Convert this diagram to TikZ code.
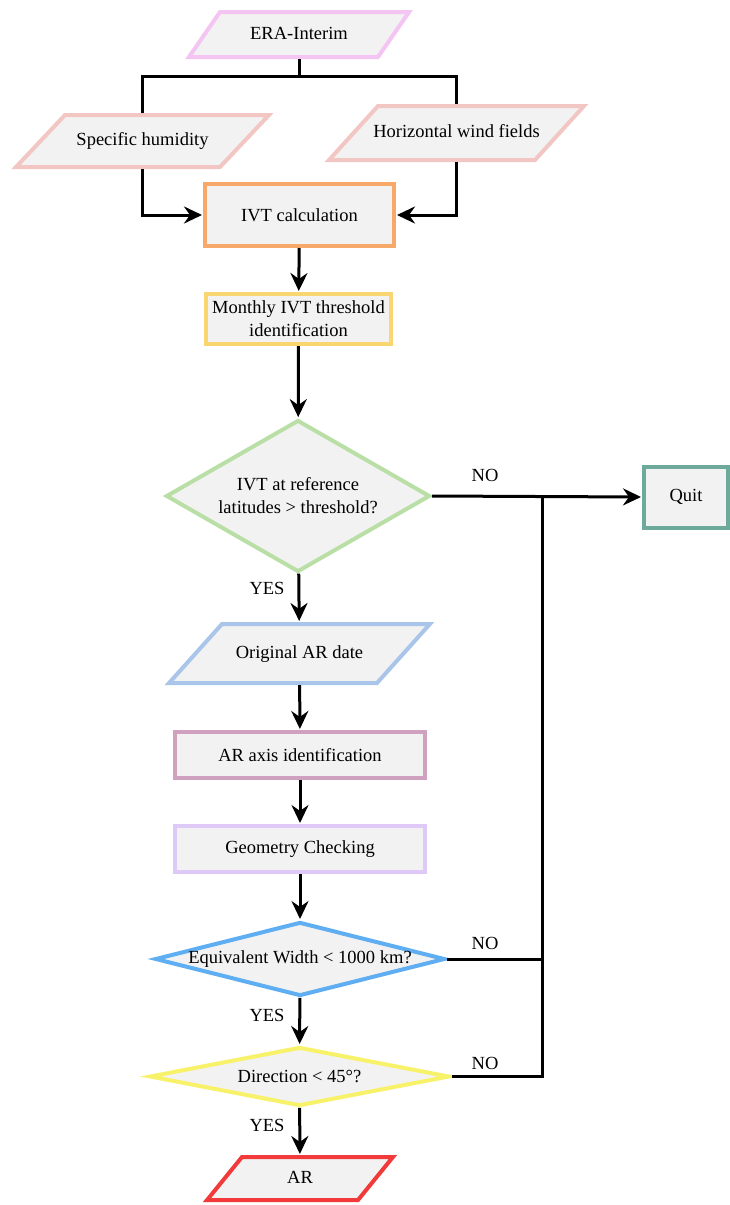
\documentclass[tikz,border=0pt]{standalone}
\usepackage{fontspec}
\setmainfont{Liberation Serif}
\usetikzlibrary{shapes.geometric,arrows.meta}
\definecolor{boxfill}{HTML}{F2F2F2}
\definecolor{eracol}{HTML}{F4C4F2}
\definecolor{varcol}{HTML}{F2C6C2}
\definecolor{ivtcol}{HTML}{F7A96A}
\definecolor{moncol}{HTML}{FAD673}
\definecolor{latcol}{HTML}{B9DFA6}
\definecolor{quitcol}{HTML}{6DAA9C}
\definecolor{origcol}{HTML}{A9C5EA}
\definecolor{axiscol}{HTML}{CFA1BE}
\definecolor{geocol}{HTML}{DFC9F7}
\definecolor{widthcol}{HTML}{5FAEF2}
\definecolor{dircol}{HTML}{F7F26A}
\definecolor{arcol}{HTML}{F23A3A}
\begin{document}
\begin{tikzpicture}[x=1pt,y=-1pt,
  every node/.style={font=\fontsize{18.5}{23}\selectfont},
  box/.style={draw=#1,fill=boxfill,line width=4pt,inner sep=0pt},
  para/.style n args={3}{trapezium,trapezium left angle=#1,trapezium right angle={180-#1},
    inner xsep=0pt,inner ysep=#3,text height=13pt,text depth=4pt,
    execute at begin node={\hbox to #2\bgroup\hss},execute at end node={\hss\egroup}},
  rect/.style={rectangle,align=center},
  dia/.style={diamond,inner sep=0pt},
  line/.style={line width=3pt,line join=miter},
  arr/.style={line,-{Stealth[length=18pt,width=17pt,inset=6pt]},shorten >=1pt}]
\useasboundingbox (0,0) rectangle (730,1205);
\node[box=eracol,para={55.4}{158pt}{14pt}] (era) at (299,34.5) {ERA-Interim};
\node[box=varcol,para={46.7}{155pt}{17.5pt}] (hum) at (142.5,141) {Specific humidity};
\node[box=varcol,para={47.8}{157pt}{18.5pt}] (wind) at (456.5,133) {Horizontal wind fields};
\node[box=ivtcol,rect,minimum width=189,minimum height=62] (ivt) at (299.5,215) {IVT calculation};
\node[box=moncol,rect,minimum width=185,minimum height=50] (mon) at (298.5,319) {Monthly IVT threshold\\identification};
\node[box=latcol,dia,minimum width=264,minimum height=152,label={[align=center]center:IVT at reference\\latitudes > threshold?}] (lat) at (298,496) {};
\node[box=quitcol,rect,minimum width=84,minimum height=61] (quit) at (686,497) {Quit};
\node[box=origcol,para={48.1}{155pt}{21pt}] (orig) at (299.5,653.5) {Original AR date};
\node[box=axiscol,rect,minimum width=250,minimum height=46] (axis) at (300,755) {AR axis identification};
\node[box=geocol,rect,minimum width=250,minimum height=46] (geo) at (300,849) {Geometry Checking};
\node[box=widthcol,dia,minimum width=290,minimum height=74,label={center:Equivalent Width < 1000 km?}] (width) at (300,959) {};
\node[box=dircol,dia,minimum width=300,minimum height=59,label={center:Direction < 45°?}] (dir) at (299.5,1076.5) {};
\node[box=arcol,para={50.9}{116pt}{13pt}] (ar) at (300,1178.5) {AR};
\coordinate (split) at (299,76);
\coordinate (join) at (542,497);
\draw[line] (era.south) -- (split);
\draw[line] (hum.north) |- (split) -| (wind.north);
\draw[arr] (hum.south) |- (ivt.west);
\draw[arr] (wind.south) |- (ivt.east);
\draw[arr] (ivt) -- (mon);
\draw[arr] (mon) -- (lat);
\draw[arr] (lat.east) -- (quit.west);
\draw[arr] (lat) -- (orig);
\draw[arr] (orig) -- (axis);
\draw[arr] (axis) -- (geo);
\draw[arr] (geo) -- (width);
\draw[arr] (width) -- (dir);
\draw[arr] (dir) -- (ar);
\draw[line] (width.east) -| (join);
\draw[line] (dir.east) -| (join);
\node (no1) at (485,475) {NO};
\node (no2) at (485,943) {NO};
\node (no3) at (485,1063) {NO};
\node[anchor=east] (yes1) at (288,588) {YES};
\node[anchor=east] (yes2) at (288,1015) {YES};
\node[anchor=east] (yes3) at (288,1125) {YES};
\end{tikzpicture}
\end{document}
